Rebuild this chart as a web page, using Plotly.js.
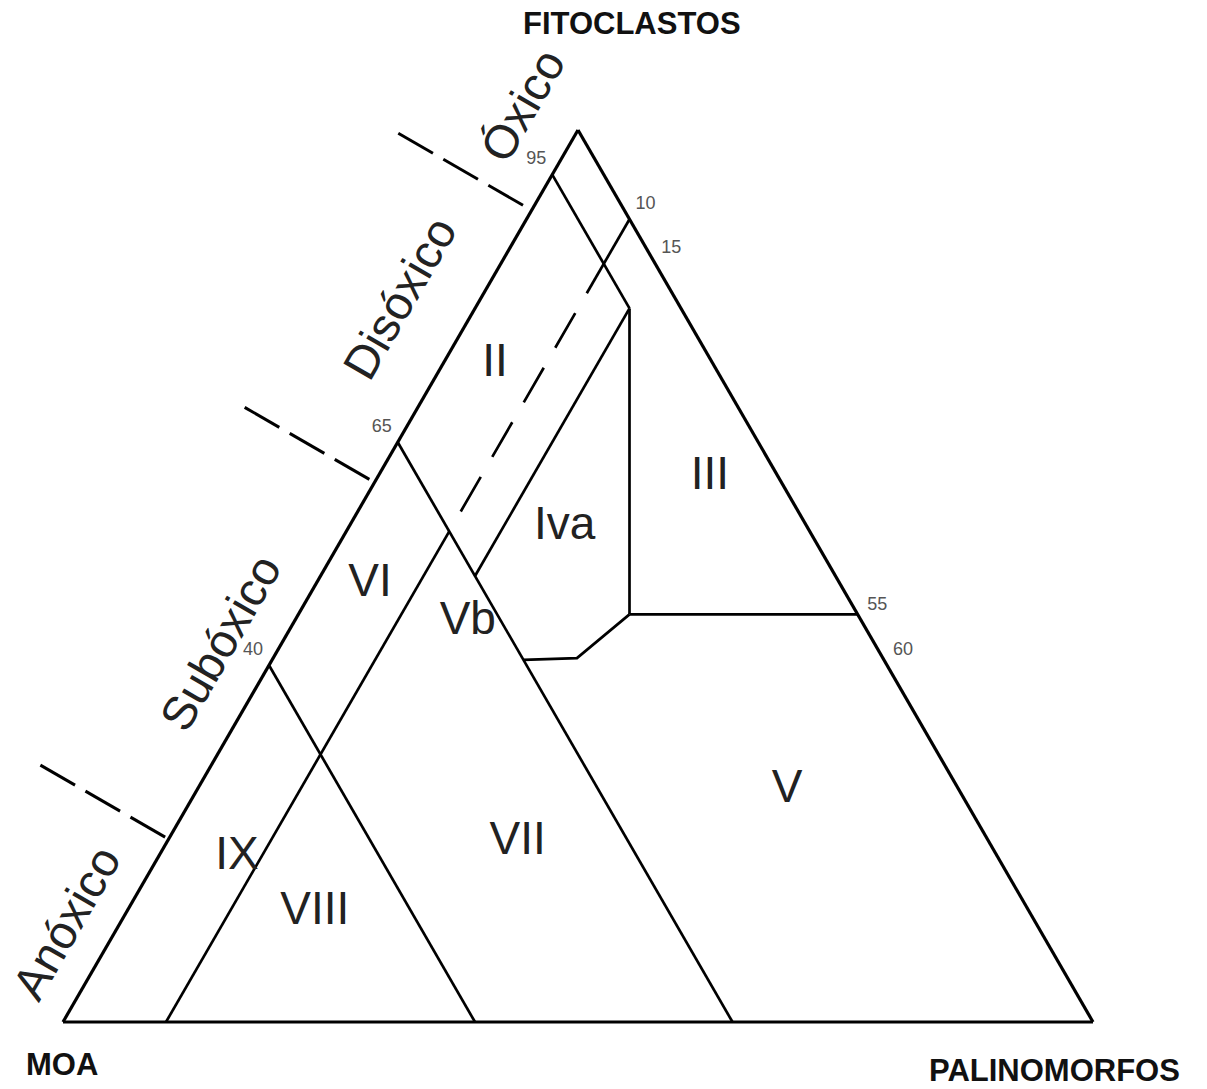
<!DOCTYPE html>
<html>
<head>
<meta charset="utf-8">
<script src="https://cdn.plot.ly/plotly-3.0.1.min.js"></script>
<style>html,body{margin:0;padding:0;background:#fff;}</style>
</head>
<body>
<div id="chart" style="width:1207px;height:1089px;"></div>
<script>
// Ternary points are [FITOCLASTOS %, MOA %, PALINOMORFOS %]
const lineMOA5   = [[95,5,0],[80,5,15]];
const lineP15    = [[80,5,15],[50,35,15]];
const lineVert   = [[80,5,15],[45.7,22.15,32.15]];
const lineF45    = [[45.7,22.15,32.15],[45.7,0,54.3]];
const lineBend   = [[45.7,22.15,32.15],[40.8,29.7,29.5],[40.6,35,24.4]];
const lineMOA35  = [[65,35,0],[0,35,65]];
const lineMOA60  = [[40,60,0],[0,60,40]];
const lineP10Top = [[90,0,10],[81.7,8.3,10]];
const lineP10Dash= [[81.7,8.3,10],[55,35,10]];
const lineP10Low = [[55,35,10],[0,90,10]];

// separators of the oxygenation zones, outside the left edge (FITOCLASTOS % at the edge)
const sepF = [91, 60.5, 20.5];

// field labels
const regionNames = ['II','III','Iva','VI','Vb','V','VII','IX','VIII'];
const regionF = [73.7, 61.0, 55.4, 49.0, 44.8, 26.0, 20.1, 18.4, 12.3];
const regionM = [21.2,  6.7, 23.6, 45.7, 38.3, 16.7, 45.8, 73.9, 69.4];
const regionP = [ 5.1, 32.3, 21.0,  5.3, 16.9, 57.3, 34.1,  7.7, 18.3];

// edge tick labels
const leftTicks  = [95, 65, 40];      // FITOCLASTOS % on MOA–FITOCLASTOS edge
const rightTicks = [10, 15, 55, 60];  // PALINOMORFOS % on FITOCLASTOS–PALINOMORFOS edge

// zone names along the left edge
const zoneNames = ['Óxico','Disóxico','Subóxico','Anóxico'];

// corner names
const cornerNames = ['FITOCLASTOS','MOA','PALINOMORFOS'];

// ---------- drawing ----------
const FONT = 'Liberation Sans, Arial, sans-serif';

function seg(pts, width, dash){
  return {
    type:'scatterternary', mode:'lines',
    a: pts.map(p=>p[0]), b: pts.map(p=>p[1]), c: pts.map(p=>p[2]),
    line:{color:'#000', width:width, dash:dash||'solid'},
    cliponaxis:false, hoverinfo:'skip', showlegend:false
  };
}

const traces = [];
[lineMOA5, lineP15, lineVert, lineF45, lineBend, lineMOA35, lineMOA60, lineP10Top, lineP10Low]
  .forEach(l => traces.push(seg(l, 2.7)));
traces.push(seg(lineP10Dash, 2.7, '0px,23px,40px,0px'));

// separator dashes: three 40px strokes, perpendicular to the left edge,
// anchored on the edge point and pushed outwards with marker standoff
const sepInner = [10, 6, 4];
const dashLen = 40, dashGap = 12;
const sa = [], sb = [], sc = [], sOff = [];
sepF.forEach((f0, i) => {
  for (let k = 0; k < 3; k++) {
    sa.push(f0); sb.push(100 - f0); sc.push(0);
    sOff.push(sepInner[i] + dashLen/2 + k*(dashLen + dashGap));
  }
});
traces.push({
  type:'scatterternary', mode:'markers',
  a: sa, b: sb, c: sc,
  marker:{symbol:'line-ns', size:dashLen/1.4, angle:120, standoff:sOff,
          color:'#000', line:{color:'#000', width:3}},
  cliponaxis:false, hoverinfo:'skip', showlegend:false
});

traces.push({
  type:'scatterternary', mode:'text',
  a: regionF, b: regionM, c: regionP, text: regionNames,
  textposition:'middle center',
  textfont:{family:FONT, size:46, color:'#222'},
  cliponaxis:false, hoverinfo:'skip', showlegend:false
});

traces.push({
  type:'scatterternary', mode:'markers+text',
  a: leftTicks, b: leftTicks.map(v=>100-v), c: leftTicks.map(()=>0),
  text: leftTicks.map(String), textposition:'top left',
  marker:{size:8, opacity:0},
  textfont:{family:FONT, size:18, color:'#555'},
  cliponaxis:false, hoverinfo:'skip', showlegend:false
});
traces.push({
  type:'scatterternary', mode:'markers+text',
  a: rightTicks.map(v=>100-v), b: rightTicks.map(()=>0), c: rightTicks,
  text: rightTicks.map(String), textposition:'top right',
  marker:{size:8, opacity:0},
  textfont:{family:FONT, size:18, color:'#555'},
  cliponaxis:false, hoverinfo:'skip', showlegend:false
});

const axisStyle = {showline:true, linecolor:'#000', linewidth:3.2, showgrid:false,
                   showticklabels:false, ticks:'', title:{text:''}};

const zonePos = [[0.4456,1.028],[0.3272,0.8117],[0.1524,0.4260],[0.0029,0.1121]];
const cornerPos = [[0.5524,1.1196],[-0.0005,-0.0482],[0.9631,-0.0549]];

const annotations = [];
zoneNames.forEach((t,i)=>annotations.push({
  xref:'paper', yref:'paper', x:zonePos[i][0], y:zonePos[i][1],
  text:t, showarrow:false, textangle:-60, xanchor:'center', yanchor:'middle',
  font:{family:FONT, size:47, color:'#222'}
}));
cornerNames.forEach((t,i)=>annotations.push({
  xref:'paper', yref:'paper', x:cornerPos[i][0], y:cornerPos[i][1],
  text:'<b>'+t+'</b>', showarrow:false, xanchor:'center', yanchor:'middle',
  font:{family:FONT, size:31, color:'#111'}
}));

const layout = {
  width:1207, height:1089,
  margin:{l:63, r:114, t:130, b:67, pad:0},
  paper_bgcolor:'#fff', plot_bgcolor:'#fff',
  showlegend:false, hovermode:false,
  ternary:{sum:100, bgcolor:'rgba(0,0,0,0)', domain:{x:[0,1], y:[0,1]},
    aaxis:axisStyle, baxis:axisStyle, caxis:axisStyle},
  annotations:annotations
};

Plotly.newPlot('chart', traces, layout, {staticPlot:true, displayModeBar:false});
</script>
</body>
</html>
